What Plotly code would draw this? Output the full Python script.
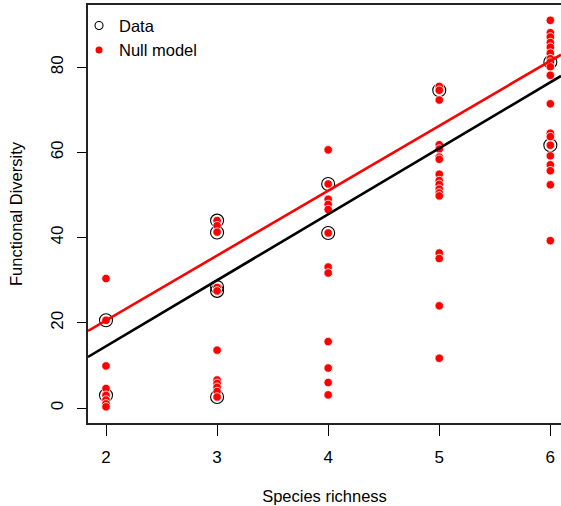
import plotly.graph_objects as go

# ---------------- data ----------------
richness_ticks = [2, 3, 4, 5, 6]
fd_ticks = [0, 20, 40, 60, 80]

data_x = [2, 2, 3, 3, 3, 3, 3, 4, 4, 5, 6, 6]
data_y = [20.6, 3.0, 44.0, 41.2, 28.4, 27.5, 2.6, 52.6, 41.1, 74.6, 81.2, 61.7]

null_2 = [30.4, 20.6, 9.9, 4.6, 3.0, 1.9, 1.0, 0.3]
null_3 = [44.0, 42.8, 41.3, 28.3, 27.5, 13.6, 6.6, 5.8, 4.9, 3.9, 2.6]
null_4 = [60.6, 52.6, 49.0, 47.8, 46.6, 41.1, 33.1, 31.7, 15.6, 9.4, 6.0, 3.1]
null_5 = [75.5, 74.6, 72.3, 61.8, 60.8, 58.9, 58.4, 54.9, 53.4, 52.5, 51.4,
          50.5, 49.8, 36.4, 35.1, 24.0, 11.7]
null_6 = [91.0, 88.1, 87.1, 85.8, 84.7, 83.3, 82.0, 81.2, 80.1, 78.1, 71.4,
          64.5, 63.7, 61.7, 59.2, 57.1, 55.7, 52.4, 39.3]

# regression lines (intercept, slope)
data_fit = [-16.47, 15.49]
null_fit = [-9.89, 15.23]

# ---------------- build ----------------
null_groups = {2: null_2, 3: null_3, 4: null_4, 5: null_5, 6: null_6}
null_x, null_y = [], []
for k, vals in null_groups.items():
    null_x += [k] * len(vals)
    null_y += vals

x_range = [1.838, 6.096]
y_range = [-3.5, 94.6]

FONT = "Liberation Sans, Arial, Helvetica, sans-serif"
BOX = "#222222"

fig = go.Figure()

fig.add_trace(go.Scatter(
    x=data_x, y=data_y, mode="markers", showlegend=False, cliponaxis=False,
    marker=dict(size=13, color="rgba(0,0,0,0)", line=dict(color="black", width=1.1)),
))
fig.add_trace(go.Scatter(
    x=null_x, y=null_y, mode="markers", showlegend=False, cliponaxis=False,
    marker=dict(size=8.5, color="#ff0000", line=dict(color="white", width=0.8)),
))

def fit_line(coef):
    xs = list(x_range)
    return xs, [coef[0] + coef[1] * v for v in xs]

bx, by = fit_line(data_fit)
fig.add_trace(go.Scatter(x=bx, y=by, mode="lines", showlegend=False,
                         line=dict(color="black", width=2.6)))
rx, ry = fit_line(null_fit)
fig.add_trace(go.Scatter(x=rx, y=ry, mode="lines", showlegend=False,
                         line=dict(color="#ff0000", width=2.6)))

# legend-only entries
fig.add_trace(go.Scatter(
    x=[None], y=[None], mode="markers", name="Data",
    marker=dict(size=8, color="rgba(0,0,0,0)", line=dict(color="black", width=1.1)),
))
fig.add_trace(go.Scatter(
    x=[None], y=[None], mode="markers", name="Null model",
    marker=dict(size=7, color="#ff0000", line=dict(color="#ff0000", width=0)),
))

fig.update_layout(
    width=561, height=506,
    margin=dict(l=88, r=0, t=5, b=83),
    paper_bgcolor="white", plot_bgcolor="white",
    font=dict(family=FONT, size=16.5, color="black"),
    showlegend=True,
    legend=dict(x=-0.019, y=0.992, xanchor="left", yanchor="top",
                bgcolor="rgba(0,0,0,0)", font=dict(size=16.5),
                itemsizing="trace", tracegroupgap=0),
    xaxis=dict(
        range=x_range, tickvals=richness_ticks, automargin=False,
        ticks="outside", ticklen=11, tickwidth=1, tickcolor="black",
        showgrid=False, zeroline=False,
        showline=True, mirror=True, linecolor=BOX, linewidth=1.5,
        ticklabelstandoff=7, tickfont=dict(size=17),
        title=dict(text="Species richness", standoff=24, font=dict(size=16.5)),
    ),
    yaxis=dict(
        range=y_range, tickvals=fd_ticks, tickangle=-90, automargin=False,
        ticks="outside", ticklen=9, tickwidth=1, tickcolor="black",
        showgrid=False, zeroline=False,
        showline=True, mirror=False, linecolor=BOX, linewidth=1.5,
        ticklabelstandoff=7, tickfont=dict(size=17),
        title=dict(text="Functional Diversity", standoff=22, font=dict(size=16.5)),
    ),
)

fig.write_html("out.html",
               config={"displayModeBar": False},
               post_script="document.body.style.margin='0px';document.body.style.padding='0px';")
